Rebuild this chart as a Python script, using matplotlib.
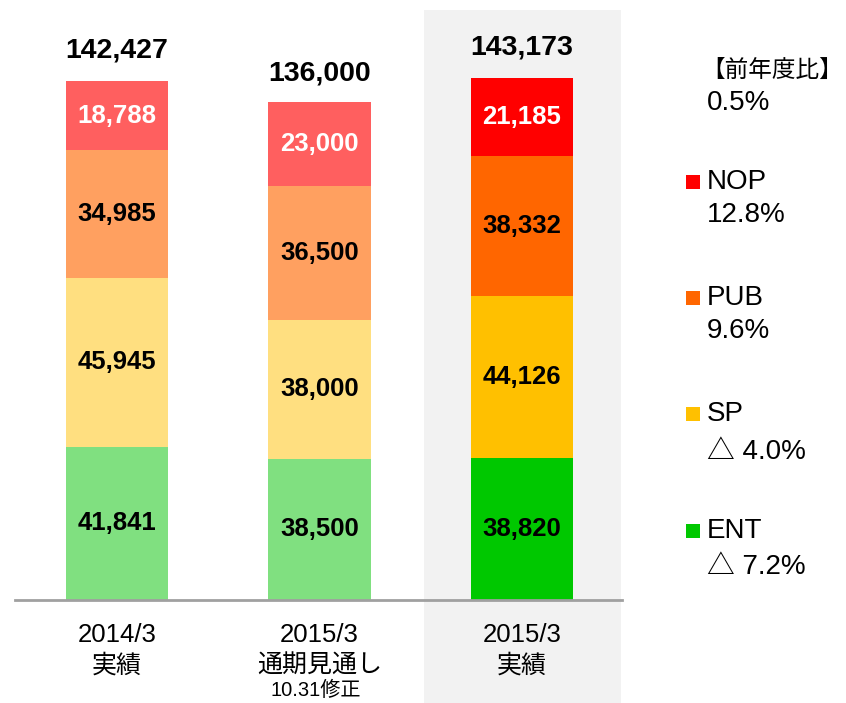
import matplotlib
matplotlib.use("Agg")
import matplotlib.pyplot as plt
from matplotlib.patches import Rectangle
from matplotlib.transforms import blended_transform_factory

plt.rcParams['font.family'] = ['Liberation Sans', 'Noto Sans CJK JP', 'DejaVu Sans']

# ---- data ----
categories_line1 = ["2014/3", "2015/3", "2015/3"]
categories_line2 = ["実績", "通期見通し", "実績"]
categories_line3 = ["", "10.31修正", ""]
totals = [142427, 136000, 143173]
ent = [41841, 38500, 38820]
sp = [45945, 38000, 44126]
pub = [34985, 36500, 38332]
nop = [18788, 23000, 21185]
series_names = ["NOP", "PUB", "SP", "ENT"]
series_yoy = ["12.8%", "9.6%", "△ 4.0%", "△ 7.2%"]
total_yoy = "0.5%"
legend_header = "【前年度比】"

light_colors = {"ENT": "#80E080", "SP": "#FFDF80", "PUB": "#FFA060", "NOP": "#FF5F5F"}
strong_colors = {"ENT": "#00C800", "SP": "#FFC000", "PUB": "#FF6600", "NOP": "#FF0000"}

W, H = 846, 703
fig = plt.figure(figsize=(W / 100, H / 100), dpi=100)

# highlighted background for last column
fig.add_artist(Rectangle((424 / W, 0), 197 / W, 693 / H, transform=fig.transFigure,
                         facecolor="#F2F2F2", edgecolor="none", zorder=-1))

ax = fig.add_axes([15 / W, 103 / H, 607 / W, 590 / H])
ax.patch.set_alpha(0)
ax.set_xlim(-0.504, 2.494)
ax.set_ylim(0, 160982)

x = list(range(len(totals)))
bw = 0.504
stack = [("ENT", ent), ("SP", sp), ("PUB", pub), ("NOP", nop)]
bottoms = [0] * len(x)
for name, vals in stack:
    for i in x:
        col = strong_colors[name] if i == 2 else light_colors[name]
        ax.bar(i, vals[i], bw, bottom=bottoms[i], color=col, edgecolor="none", zorder=2)
        tc = "white" if name == "NOP" else "black"
        ax.text(i, bottoms[i] + vals[i] / 2, f"{vals[i]:,}", ha="center", va="center",
                fontsize=18.5, fontweight="bold", color=tc, zorder=3)
    bottoms = [b + v for b, v in zip(bottoms, vals)]

for i in x:
    ax.annotate(f"{totals[i]:,}", (i, totals[i]), xytext=(0, 20), textcoords="offset points",
                ha="center", va="center", fontsize=20.5, fontweight="bold", color="black")

for s in ["top", "left", "right"]:
    ax.spines[s].set_visible(False)
ax.spines["bottom"].set_color("#A0A0A0")
ax.spines["bottom"].set_linewidth(2)
ax.set_xticks([])
ax.set_yticks([])

tr = blended_transform_factory(ax.transData, fig.transFigure)
for i in x:
    ax.text(i, (H - 635) / H, categories_line1[i], transform=tr, ha="center", va="center", fontsize=18.5)
    ax.text(i, (H - 666) / H, categories_line2[i], transform=tr, ha="center", va="center", fontsize=18)
    if categories_line3[i]:
        ax.text(i - 0.02, (H - 690) / H, categories_line3[i], transform=tr, ha="center", va="center",
                fontsize=14.5)

# legend
fig.text(701 / W, (H - 70) / H, legend_header, ha="left", va="center", fontsize=17,
         family=['Noto Sans CJK JP', 'DejaVu Sans'])
fig.text(707 / W, (H - 103) / H, total_yoy, ha="left", va="center", fontsize=20)
leg_y = [182, 298, 414, 531]
leg_y2 = [215, 331, 452, 567]
for name, yoy, y1, y2 in zip(series_names, series_yoy, leg_y, leg_y2):
    fig.add_artist(Rectangle((686 / W, (H - y1 - 7) / H), 14 / W, 14 / H, transform=fig.transFigure,
                             facecolor=strong_colors[name], edgecolor="none"))
    fig.text(707 / W, (H - y1) / H, name, ha="left", va="center", fontsize=20)
    fig.text(707 / W, (H - y2) / H, yoy, ha="left", va="center", fontsize=20,
             family=['Liberation Sans', 'Noto Sans CJK JP', 'DejaVu Sans'])

fig.savefig("out.png", dpi=100)
